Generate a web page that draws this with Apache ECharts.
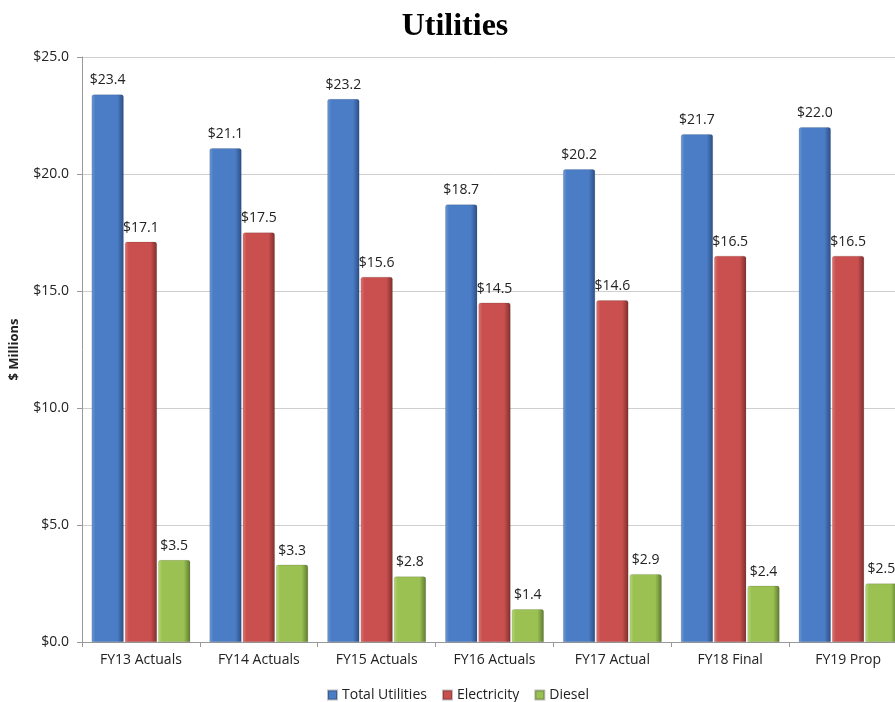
<!DOCTYPE html>
<html>
<head>
<meta charset="utf-8">
<script src="https://cdn.jsdelivr.net/npm/echarts@6/dist/echarts.min.js"></script>
<style>
  html, body { margin: 0; padding: 0; background: #fff; overflow: hidden; width: 895px; height: 702px; }
  /* the original is cropped on the right, so draw wider and let the page clip it */
  #chart { width: 920px; height: 702px; }
</style>
</head>
<body>
<div id="chart"></div>
<script>
const categories = ['FY13 Actuals', 'FY14 Actuals', 'FY15 Actuals', 'FY16 Actuals', 'FY17 Actual', 'FY18 Final', 'FY19 Prop'];
const totalUtilities = [23.4, 21.1, 23.2, 18.7, 20.2, 21.7, 22.0];
const electricity = [17.1, 17.5, 15.6, 14.5, 14.6, 16.5, 16.5];
const diesel = [3.5, 3.3, 2.8, 1.4, 2.9, 2.4, 2.5];
const yTicks = [0, 5, 10, 15, 20, 25];

const chart = echarts.init(document.getElementById('chart'));
const font = 'Open Sans';

// horizontal gradient to fake the bevelled look of the bars
const shade = (light, mid, dark) => new echarts.graphic.LinearGradient(0, 0, 1, 0, [
    { offset: 0, color: light },
    { offset: 0.12, color: mid },
    { offset: 0.8, color: mid },
    { offset: 1, color: dark }
]);

const makeSeries = (name, data, fill, legendColor) => ({
    name,
    type: 'bar',
    data,
    barWidth: 32,
    barGap: '4%',
    itemStyle: { color: fill, borderColor: 'rgba(0,0,0,0.25)', borderWidth: 0.5, borderRadius: [2, 2, 0, 0] },
    label: {
        show: true,
        position: 'top',
        distance: 7,
        color: '#222',
        fontSize: 14,
        fontFamily: font,
        formatter: p => '$' + p.value.toFixed(1)
    },
    legendColor
});

const series = [
    makeSeries('Total Utilities', totalUtilities, shade('#6d9ad6', '#4a7dc6', '#2b4e85'), '#4a7dc6'),
    makeSeries('Electricity', electricity, shade('#de7573', '#c9504e', '#7f2f2d'), '#c9504e'),
    makeSeries('Diesel', diesel, shade('#b8d87a', '#9bc153', '#5f7a2e'), '#9bc153')
];

chart.setOption({
    animation: false,
    title: {
        text: 'Utilities',
        left: 450,
        top: 6,
        textAlign: 'center',
        textStyle: { fontFamily: 'Liberation Serif', fontWeight: 'bold', fontSize: 32, color: '#000' }
    },
    legend: {
        top: 683,
        left: 322,
        itemWidth: 9,
        itemHeight: 9,
        itemGap: 15,
        icon: 'rect',
        textStyle: { fontFamily: font, fontSize: 14, color: '#222' },
        data: series.map(s => ({ name: s.name, itemStyle: { color: s.legendColor } }))
    },
    grid: { left: 81, top: 57, right: 13, height: 585 },
    xAxis: {
        type: 'category',
        data: categories,
        axisLine: { lineStyle: { color: '#999' } },
        axisTick: { show: true, alignWithLabel: false, length: 5, lineStyle: { color: '#999' } },
        axisLabel: { color: '#222', fontFamily: font, fontSize: 14, margin: 11 }
    },
    yAxis: {
        type: 'value',
        min: yTicks[0],
        max: yTicks[yTicks.length - 1],
        interval: 5,
        name: '$ Millions',
        nameLocation: 'middle',
        nameGap: 61,
        nameTextStyle: { fontFamily: font, fontWeight: 'bold', fontSize: 13, color: '#222' },
        axisLine: { show: true, lineStyle: { color: '#999' } },
        axisTick: { show: true, length: 5, lineStyle: { color: '#999' } },
        axisLabel: { color: '#222', fontFamily: font, fontSize: 14, margin: 13, formatter: v => '$' + v.toFixed(1) },
        splitLine: { lineStyle: { color: '#cfcfcf' } }
    },
    series: series.map(({ legendColor, ...s }) => s)
});
</script>
</body>
</html>
